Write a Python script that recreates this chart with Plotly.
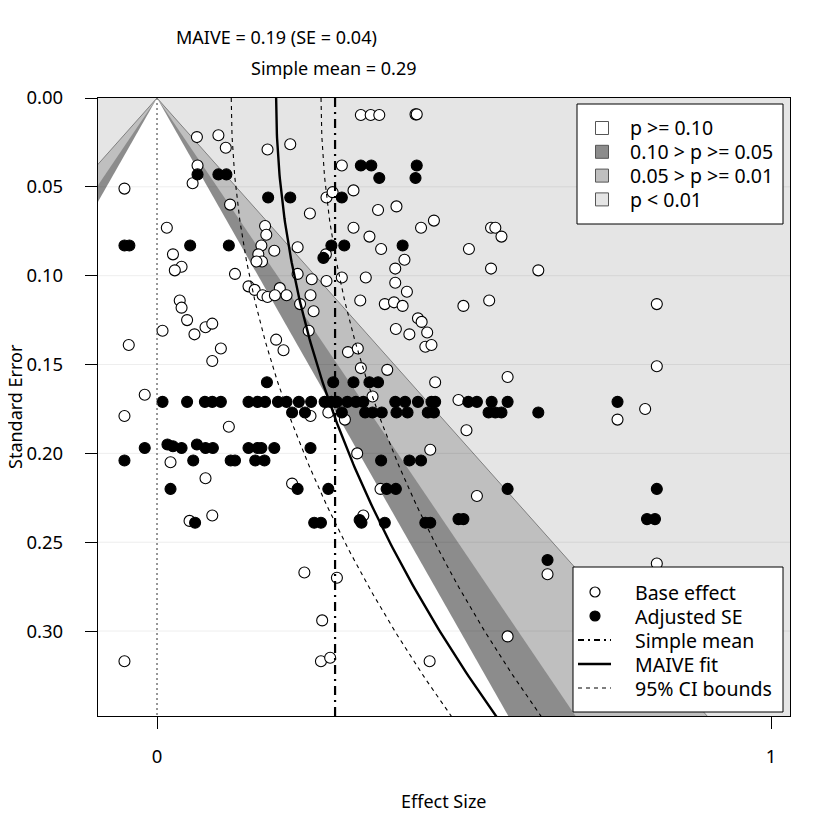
import numpy as np
import plotly.graph_objects as go

# significance contours: two-sided z for p = .10, .05, .01
z_levels = [1.645, 1.96, 2.576]
band_labels = ["p >= 0.10", "0.10 > p >= 0.05", "0.05 > p >= 0.01", "p < 0.01"]
band_colors = ["#ffffff", "#8c8c8c", "#bfbfbf", "#e5e5e5"]

# MAIVE / PEESE fit and simple mean
maive_est = 0.194
maive_se = 0.0373
peese_slope = 2.96
simple_mean = 0.29

# base effects (open circles)
base_effect = [
    0.065, 0.100, 0.112, 0.066, 0.058, -0.053, 0.180, 0.217, 0.119, 0.276,
    0.286, 0.249, 0.016, 0.176, 0.178, 0.170, 0.191, 0.165, 0.171, 0.162,
    0.229, 0.026, 0.040, 0.029, 0.127, 0.229, 0.252, 0.276, 0.149, 0.159,
    0.200, 0.172, 0.180, 0.192, 0.211, 0.250, 0.233, 0.037, 0.040, 0.049,
    0.009, -0.046, 0.061, 0.079, 0.090, 0.104, 0.090, 0.255, 0.247, 0.194,
    0.206, -0.020, -0.053, 0.117, 0.022, 0.079, 0.220, 0.250, 0.279, 0.332,
    0.348, 0.362, 0.421, 0.423, 0.301, 0.320, 0.360, 0.390, 0.320, 0.346,
    0.365, 0.403, 0.388, 0.388, 0.407, 0.301, 0.340, 0.430, 0.451, 0.508,
    0.544, 0.551, 0.561, 0.544, 0.621, 0.331, 0.371, 0.386, 0.400, 0.499,
    0.541, 0.814, 0.425, 0.431, 0.440, 0.389, 0.411, 0.437, 0.447, 0.311,
    0.327, 0.332, 0.375, 0.453, 0.571, 0.351, 0.491, 0.306, 0.504, 0.326,
    0.445, 0.364, 0.521, 0.795, 0.750, 0.814, 0.053, 0.090, 0.240, 0.269,
    -0.053, 0.267, 0.282, 0.336, 0.636, 0.293, 0.571, 0.444, 0.814, 0.275,
]
base_se = [
    0.022, 0.021, 0.028, 0.038, 0.048, 0.051, 0.029, 0.026, 0.060, 0.056,
    0.053, 0.065, 0.073, 0.072, 0.077, 0.083, 0.086, 0.088, 0.092, 0.092,
    0.084, 0.088, 0.095, 0.097, 0.099, 0.099, 0.102, 0.103, 0.106, 0.108,
    0.107, 0.111, 0.112, 0.111, 0.111, 0.111, 0.116, 0.114, 0.118, 0.125,
    0.131, 0.139, 0.133, 0.129, 0.127, 0.141, 0.148, 0.120, 0.131, 0.136,
    0.142, 0.167, 0.179, 0.185, 0.205, 0.214, 0.217, 0.179, 0.177, 0.0096,
    0.0096, 0.0096, 0.0092, 0.0092, 0.038, 0.052, 0.063, 0.061, 0.073, 0.078,
    0.085, 0.091, 0.096, 0.104, 0.109, 0.101, 0.101, 0.073, 0.069, 0.085,
    0.073, 0.073, 0.078, 0.096, 0.097, 0.114, 0.116, 0.115, 0.117, 0.117,
    0.114, 0.116, 0.124, 0.126, 0.132, 0.130, 0.133, 0.140, 0.139, 0.143,
    0.141, 0.152, 0.153, 0.160, 0.157, 0.168, 0.170, 0.181, 0.187, 0.200,
    0.198, 0.220, 0.224, 0.175, 0.181, 0.151, 0.238, 0.235, 0.267, 0.294,
    0.317, 0.317, 0.315, 0.235, 0.268, 0.270, 0.303, 0.317, 0.262, 0.088,
]

# adjusted-SE estimates (filled circles)
adj_effect = [
    0.066, 0.100, 0.113, 0.181, 0.217, -0.053, -0.045, 0.054, 0.117, 0.271,
    0.305, 0.284, 0.400, 0.332, 0.349, 0.362, 0.423, 0.421, 0.301,
    0.009, 0.049, 0.078, 0.090, 0.104, 0.149, 0.164, 0.176, 0.197, 0.211,
    0.231, 0.251, 0.273, 0.284, 0.293, 0.310, 0.324, 0.336, 0.388, 0.404,
    0.425, 0.447, 0.453, 0.507, 0.521, 0.545, 0.571, 0.750,
    0.220, 0.241, 0.301, 0.339, 0.351, 0.366, 0.390, 0.408, 0.441, 0.451,
    0.540, 0.551, 0.561, 0.621,
    0.179, 0.287, 0.320, 0.346, 0.360,
    -0.020, 0.017, 0.026, 0.040, 0.065, 0.079, 0.091, 0.149, 0.164, 0.170,
    0.191, 0.250,
    -0.053, 0.059, 0.120, 0.127, 0.160, 0.175, 0.365, 0.411, 0.430,
    0.022, 0.229, 0.279, 0.374, 0.389, 0.571, 0.814,
    0.062, 0.256, 0.267, 0.330, 0.333, 0.371, 0.437, 0.445, 0.491, 0.499,
    0.798, 0.811, 0.636,
]
adj_se = [
    0.043, 0.043, 0.043, 0.056, 0.056, 0.083, 0.083, 0.083, 0.083, 0.090,
    0.083, 0.083, 0.083, 0.038, 0.038, 0.045, 0.038, 0.045, 0.056,
    0.171, 0.171, 0.171, 0.171, 0.171, 0.171, 0.171, 0.171, 0.171, 0.171,
    0.171, 0.171, 0.171, 0.171, 0.171, 0.171, 0.171, 0.171, 0.171, 0.171,
    0.171, 0.171, 0.171, 0.171, 0.171, 0.171, 0.171, 0.171,
    0.177, 0.177, 0.177, 0.177, 0.177, 0.177, 0.177, 0.177, 0.177, 0.177,
    0.177, 0.177, 0.177, 0.177,
    0.160, 0.160, 0.160, 0.160, 0.160,
    0.197, 0.195, 0.196, 0.197, 0.195, 0.197, 0.197, 0.197, 0.197, 0.197,
    0.197, 0.197,
    0.204, 0.204, 0.204, 0.204, 0.204, 0.204, 0.204, 0.204, 0.204,
    0.220, 0.220, 0.220, 0.220, 0.220, 0.220, 0.220,
    0.239, 0.239, 0.239, 0.2375, 0.239, 0.239, 0.239, 0.239, 0.237, 0.237,
    0.237, 0.237, 0.260,
]

point_labels = ["Base effect", "Adjusted SE"]
line_labels = ["Simple mean", "MAIVE fit", "95% CI bounds"]

x_range = [-0.0961, 1.0309]
y_range = [0.3478, 0.0]
font = "Noto Sans"

# plot box is 692 x 618 px; the page has an 8px body margin
PW, PH = 692, 618
LEFT, TOP = 90, 90


def px(xp):  # page pixel -> paper x
    return (xp - 98) / PW


def py(yp):  # page pixel -> paper y
    return (716 - yp) / PH


fig = go.Figure()

# funnel contours, widest first (background is the p < 0.01 colour)
se_far = 0.45
for i, z in enumerate(z_levels[::-1]):
    fig.add_trace(go.Scatter(
        x=[0, -z * se_far, z * se_far, 0], y=[0, se_far, se_far, 0],
        mode="lines", fill="toself", fillcolor=band_colors[2 - i],
        line=dict(color="#808080", width=1 if i == 0 else 0),
        hoverinfo="skip", showlegend=False))

# light horizontal grid over the fills
gx, gy = [], []
for g in [0.05, 0.10, 0.15, 0.20, 0.25, 0.30]:
    gx += [x_range[0], x_range[1], None]
    gy += [g, g, None]
fig.add_trace(go.Scatter(x=gx, y=gy, mode="lines",
                         line=dict(color="rgba(0,0,0,0.07)", width=1),
                         hoverinfo="skip", showlegend=False))

# points
fig.add_trace(go.Scatter(
    x=base_effect, y=base_se, mode="markers", name=point_labels[0],
    marker=dict(symbol="circle", size=11, color="white",
                line=dict(color="black", width=1.1))))
fig.add_trace(go.Scatter(
    x=adj_effect, y=adj_se, mode="markers", name=point_labels[1],
    marker=dict(symbol="circle", size=11, color="black",
                line=dict(color="black", width=1.1))))

# reference lines
dash_mean = "9px,5px,2px,5px"
dash_ci = "4px,4px"
fig.add_trace(go.Scatter(x=[0, 0], y=[0, se_far], mode="lines",
                         line=dict(color="#555555", width=1.2, dash="2px,3px"),
                         hoverinfo="skip"))
fig.add_trace(go.Scatter(x=[simple_mean, simple_mean], y=[0, se_far], mode="lines",
                         name=line_labels[0],
                         line=dict(color="black", width=2.2, dash=dash_mean)))

se_grid = np.linspace(0, se_far, 200)
fit_x = maive_est + peese_slope * se_grid ** 2
half = 1.96 * maive_se
fig.add_trace(go.Scatter(x=fit_x, y=se_grid, mode="lines", name=line_labels[1],
                         line=dict(color="black", width=2.4)))
fig.add_trace(go.Scatter(x=fit_x - half, y=se_grid, mode="lines", name=line_labels[2],
                         line=dict(color="black", width=1.1, dash=dash_ci)))
fig.add_trace(go.Scatter(x=fit_x + half, y=se_grid, mode="lines",
                         line=dict(color="black", width=1.1, dash=dash_ci),
                         hoverinfo="skip"))

# ---- legends drawn by hand (R-style boxes) ----
shapes = []
annos = []
leg_font = dict(size=19.5, color="black", family=font)

# contour legend, top right
shapes.append(dict(type="rect", xref="paper", yref="paper",
                   x0=px(577), x1=px(783), y0=py(224), y1=py(104),
                   fillcolor="white", line=dict(color="black", width=1)))
for k, (lab, col) in enumerate(zip(band_labels, band_colors)):
    yc = 128 + 23.8 * k
    shapes.append(dict(type="rect", xref="paper", yref="paper",
                       x0=px(595.5), x1=px(608.5), y0=py(yc + 6.5), y1=py(yc - 6.5),
                       fillcolor=col, line=dict(color="#555555", width=1)))
    annos.append(dict(x=px(628), y=py(yc), xref="paper", yref="paper", text=lab,
                      showarrow=False, xanchor="left", yanchor="middle", font=leg_font))

# marks legend, bottom right
shapes.append(dict(type="rect", xref="paper", yref="paper",
                   x0=px(573), x1=px(783), y0=py(712), y1=py(567),
                   fillcolor="white", line=dict(color="black", width=1)))
key_y = [592, 616, 640, 664, 688]
for k, col in enumerate(["white", "black"]):
    yc = key_y[k]
    shapes.append(dict(type="circle", xref="paper", yref="paper",
                       x0=px(590), x1=px(600), y0=py(yc + 5), y1=py(yc - 5),
                       fillcolor=col, line=dict(color="black", width=1.2)))
for k, (w, d) in enumerate([(2.2, "6px,4px,2px,4px"), (2.4, "solid"), (1.1, dash_ci)]):
    yc = key_y[k + 2]
    shapes.append(dict(type="line", xref="paper", yref="paper",
                       x0=px(578), x1=px(611), y0=py(yc), y1=py(yc),
                       line=dict(color="black", width=w, dash=d)))
for lab, yc in zip(point_labels + line_labels, key_y):
    annos.append(dict(x=px(633), y=py(yc), xref="paper", yref="paper", text=lab,
                      showarrow=False, xanchor="left", yanchor="middle", font=leg_font))

# top labels and axis titles
annos += [
    dict(x=maive_est, y=py(37), xref="x", yref="paper", text="MAIVE = 0.19 (SE = 0.04)"),
    dict(x=0.287, y=py(68), xref="x", yref="paper", text="Simple mean = 0.29"),
    dict(x=px(444), y=py(801), xref="paper", yref="paper", text="Effect Size"),
    dict(x=px(15), y=py(407), xref="paper", yref="paper", text="Standard Error",
         textangle=-90),
]
for a in annos[-4:]:
    a.update(showarrow=False, xanchor="center", yanchor="middle",
             font=dict(size=18, color="black", family=font))

fig.update_layout(
    width=840, height=840,
    margin=dict(l=LEFT, r=840 - LEFT - PW, t=TOP, b=840 - TOP - PH),
    paper_bgcolor="white", plot_bgcolor=band_colors[3],
    font=dict(family=font, size=18, color="black"),
    showlegend=False,
    shapes=shapes, annotations=annos,
    xaxis=dict(range=x_range, tickvals=[0, 1], ticktext=["0", "1"],
               showgrid=False, zeroline=False, showline=True, mirror=True,
               linecolor="black", linewidth=1.2, ticks="outside", ticklen=12,
               tickcolor="black", tickfont=dict(size=18.5), ticklabelstandoff=12),
    yaxis=dict(range=y_range, tickvals=[0, 0.05, 0.10, 0.15, 0.20, 0.25, 0.30],
               tickformat=".2f", showgrid=False, zeroline=False, showline=True,
               mirror=True, linecolor="black", linewidth=1.2, ticks="outside",
               ticklen=12, tickcolor="black", tickfont=dict(size=18.5),
               ticklabelstandoff=18),
)

fig.write_html("out.html")
